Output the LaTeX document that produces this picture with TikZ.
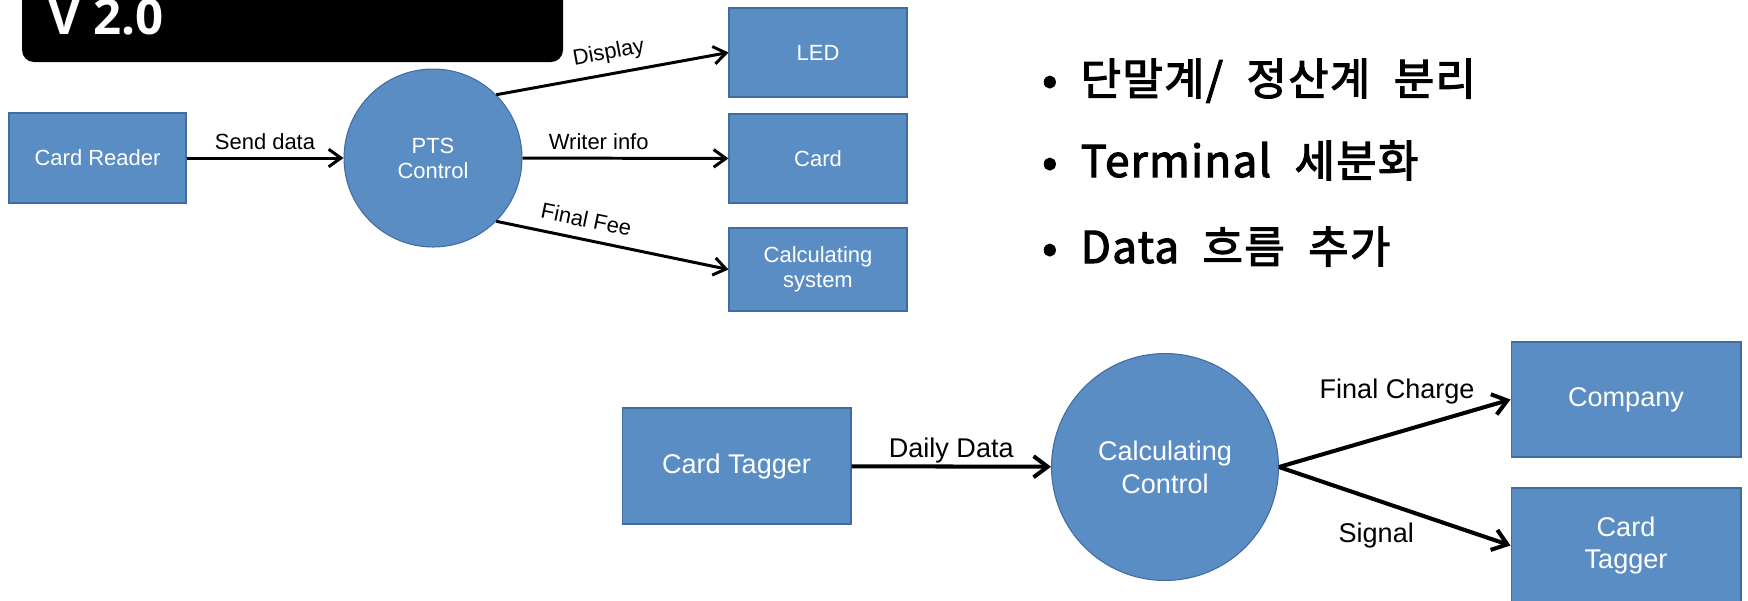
\documentclass[tikz,border=0pt]{standalone}
\usepackage{fontspec}
\setmainfont{Liberation Sans}
\newfontfamily\krfont{Noto Sans CJK KR}[FakeBold=2.5, WordSpace=2.1, LetterSpace=3]
\newfontfamily\titlefont{Open Sans}
\usetikzlibrary{arrows.meta}
\definecolor{boxblue}{RGB}{91,141,197}
\definecolor{boxedge}{RGB}{66,108,160}

\begin{document}
\begin{tikzpicture}[x=0.02cm, y=-0.02cm,
  blockbox/.style={draw=boxedge, fill=boxblue, line width=0.6pt, text=white, align=center, inner sep=0pt},
  smallfont/.style={font=\fontsize{12.5}{14.2}\selectfont},
  bigfont/.style={font=\fontsize{15.4}{18.7}\selectfont},
  smallbox/.style={blockbox, smallfont, minimum width=3.56cm, minimum height=1.78cm},
  bigbox/.style={blockbox, bigfont, minimum width=4.6cm, minimum height=2.3cm},
  upflow/.style={line width=1.7pt, ->, >={Straight Barb[length=7pt, width=10pt]}},
  lowflow/.style={line width=2.3pt, ->, >={Straight Barb[length=8pt, width=12pt]}},
  lbl/.style={inner sep=1pt, text=black},
  bulletline/.style={anchor=base west, inner sep=0pt, font=\krfont\fontsize{25}{30}\selectfont}]
\useasboundingbox (0,0) rectangle (1748,600);
\fill[black, rounded corners=0.24cm] (22,-40) rectangle (563,62);
\node[anchor=base west, inner sep=0pt, text=white, font=\titlefont\bfseries\fontsize{28}{30}\selectfont] (title) at (48,34) {V 2.0};

\node[smallbox, minimum width=3.54cm, minimum height=1.8cm] (reader) at (97.5,158) {Card Reader};
\node[blockbox, circle, smallfont, minimum size=3.56cm] (pts) at (433,158) {PTS\\Control};
\node[smallbox] (led) at (818,52.5) {LED};
\node[smallbox] (card) at (818,158.5) {Card};
\node[smallbox, minimum height=1.66cm] (calcsys) at (818,269.5) {Calculating\\system};

\draw[upflow] (reader) -- node[lbl, smallfont, above=3pt] (sendlbl) {Send data} (pts);
\draw[upflow] (pts.45) -- node[lbl, smallfont, above=4pt, sloped] (displbl) {Display} (led.west);
\draw[upflow] (pts) -- node[lbl, smallfont, above=3pt, pos=0.37] (writelbl) {Writer info} (card);
\draw[upflow] (pts.-45) -- node[lbl, smallfont, above=5pt, sloped, pos=0.37] (feelbl) {Final Fee} (calcsys.west);

\node[bulletline] (pt1) at (1042,95) {• 단말계/ 정산계 분리};
\node[bulletline] (pt2) at (1042,177) {• Terminal 세분화};
\node[bulletline] (pt3) at (1042,263) {• Data 흐름 추가};

\node[bigbox, minimum width=4.58cm, minimum height=2.32cm] (tagger) at (736.5,466) {Card Tagger};
\node[blockbox, circle, bigfont, minimum size=4.54cm] (calc) at (1165,467) {Calculating\\Control};
\node[bigbox] (company) at (1626,399.5) {Company};
\node[bigbox] (tagger2) at (1626,545.5) {Card\\Tagger};

\draw[lowflow] (tagger) -- node[lbl, bigfont, above=0pt] (dailylbl) {Daily Data} (calc);
\draw[lowflow] (calc.east) -- node[lbl, bigfont, above=14pt, pos=0.51] (chargelbl) {Final Charge} (company.west);
\draw[lowflow] (calc.east) -- node[lbl, bigfont, below=11pt, pos=0.42] (signallbl) {Signal} (tagger2.west);
\end{tikzpicture}
\end{document}
